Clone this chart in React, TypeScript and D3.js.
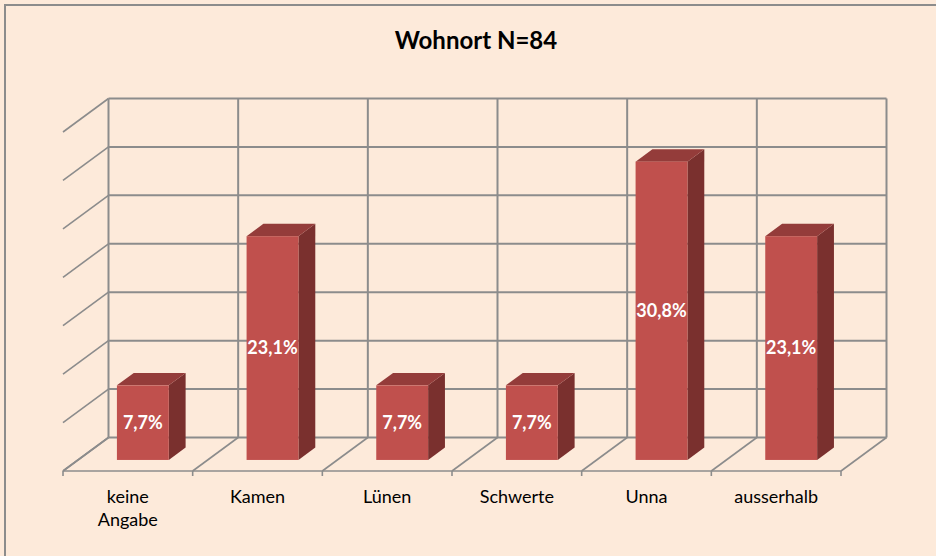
import React, { useRef, useEffect } from "react";
import { select, scaleBand, scaleLinear, range } from "d3";

const categories = ["keine Angabe", "Kamen", "Lünen", "Schwerte", "Unna", "ausserhalb"];
const values = [7.7, 23.1, 7.7, 7.7, 30.8, 23.1];
const valueLabels = ["7,7%", "23,1%", "7,7%", "7,7%", "30,8%", "23,1%"];
const yTicks = [0, 5, 10, 15, 20, 25, 30, 35];

const W = 936;
const H = 556;
// oblique 3d: front-left floor corner and depth vector
const ox = 63;
const oy = 471;
const depthX = 45.5;
const depthY = 33.5;
const plotW = 778;
const plotH = 339;
const font = "Lato, 'Liberation Sans', sans-serif";

function App() {
  const svgRef = useRef();

  useEffect(() => {
    const svg = select(svgRef.current);
    svg.selectAll("*").remove();

    const xScale = scaleBand()
      .domain(categories)
      .range([0, plotW])
      .paddingInner(0.6)
      .paddingOuter(0.3);
    const yScale = scaleLinear().domain([0, 35]).range([0, plotH]);

    // project (x along categories, h height, d depth 0=front 1=back)
    const px = (x, d) => ox + x + depthX * d;
    const py = (h, d) => oy - h - depthY * d;
    const pt = (x, h, d) => `${px(x, d)},${py(h, d)}`;

    svg
      .append("rect")
      .attr("width", W)
      .attr("height", H)
      .attr("fill", "#FDEADA");
    svg
      .append("rect")
      .attr("x", 5)
      .attr("y", 5)
      .attr("width", 1000)
      .attr("height", 1000)
      .attr("fill", "none")
      .attr("stroke", "#8c8c8c")
      .attr("stroke-width", 2);

    svg
      .append("text")
      .attr("x", 476)
      .attr("y", 49)
      .attr("text-anchor", "middle")
      .attr("font-family", font)
      .attr("font-weight", "bold")
      .attr("font-size", 24)
      .attr("fill", "#000")
      .text("Wohnort N=84");

    const grid = svg.append("g").attr("stroke", "#8c8c8c").attr("fill", "none");

    // horizontal gridlines: back wall + left wall
    yTicks.forEach((t) => {
      const h = yScale(t);
      grid
        .append("line")
        .attr("x1", px(0, 1))
        .attr("x2", px(plotW, 1))
        .attr("y1", py(h, 1))
        .attr("y2", py(h, 1))
        .attr("stroke-width", 2);
      grid
        .append("line")
        .attr("x1", px(0, 0))
        .attr("x2", px(0, 1))
        .attr("y1", py(h, 0))
        .attr("y2", py(h, 1))
        .attr("stroke-width", 1.6);
    });

    // category boundaries: back wall verticals, floor diagonals, ticks
    const step = xScale.step();
    range(categories.length + 1).forEach((i) => {
      const x = i * step;
      grid
        .append("line")
        .attr("x1", px(x, 1))
        .attr("x2", px(x, 1))
        .attr("y1", py(0, 1))
        .attr("y2", py(plotH, 1))
        .attr("stroke-width", 2);
      grid
        .append("line")
        .attr("x1", px(x, 0))
        .attr("x2", px(x, 1))
        .attr("y1", py(0, 0))
        .attr("y2", py(0, 1))
        .attr("stroke-width", 1.6);
      grid
        .append("line")
        .attr("x1", px(x, 0))
        .attr("x2", px(x, 0))
        .attr("y1", py(0, 0))
        .attr("y2", py(0, 0) + 5)
        .attr("stroke-width", 1.6);
    });
    // front floor edge
    grid
      .append("line")
      .attr("x1", px(0, 0))
      .attr("x2", px(plotW, 0))
      .attr("y1", py(0, 0))
      .attr("y2", py(0, 0))
      .attr("stroke-width", 1.6);

    // bars
    const d0 = 0.33;
    const d1 = 0.7;
    const bw = xScale.bandwidth();
    const bars = svg
      .selectAll(".bar")
      .data(categories)
      .join("g")
      .attr("class", "bar");

    bars
      .append("polygon")
      .attr("fill", "#7A302E")
      .attr("points", (c, i) => {
        const x1 = xScale(c) + bw;
        const h = yScale(values[i]);
        return [pt(x1, 0, d0), pt(x1, h, d0), pt(x1, h, d1), pt(x1, 0, d1)].join(" ");
      });
    bars
      .append("polygon")
      .attr("fill", "#943C3A")
      .attr("points", (c, i) => {
        const x0 = xScale(c);
        const x1 = x0 + bw;
        const h = yScale(values[i]);
        return [pt(x0, h, d0), pt(x1, h, d0), pt(x1, h, d1), pt(x0, h, d1)].join(" ");
      });
    bars
      .append("rect")
      .attr("fill", "#C0504D")
      .attr("x", (c) => px(xScale(c), d0))
      .attr("y", (c, i) => py(yScale(values[i]), d0))
      .attr("width", bw)
      .attr("height", (c, i) => yScale(values[i]));

    // value labels
    bars
      .append("text")
      .attr("x", (c) => px(xScale(c) + bw / 2, d0))
      .attr("y", (c, i) => py(yScale(values[i]) / 2, d0))
      .attr("dy", "0.35em")
      .attr("text-anchor", "middle")
      .attr("font-family", font)
      .attr("font-weight", "bold")
      .attr("font-size", 18)
      .attr("fill", "#fff")
      .text((c, i) => valueLabels[i]);

    // category labels
    const labels = svg
      .selectAll(".cat")
      .data(categories)
      .join("text")
      .attr("class", "cat")
      .attr("text-anchor", "middle")
      .attr("font-family", font)
      .attr("font-size", 18)
      .attr("fill", "#000");
    labels.each(function (c) {
      const words = c === "keine Angabe" ? ["keine", "Angabe"] : [c];
      const cx = px(xScale(c) + bw / 2, 0);
      words.forEach((w, j) => {
        select(this)
          .append("tspan")
          .attr("x", cx)
          .attr("y", 503 + j * 23)
          .text(w);
      });
    });
  }, []);

  return (
    <div>
      <style>{`body{margin:0}`}</style>
      <svg ref={svgRef} width={W} height={H} style={{ display: "block" }}></svg>
    </div>
  );
}

export default App;
